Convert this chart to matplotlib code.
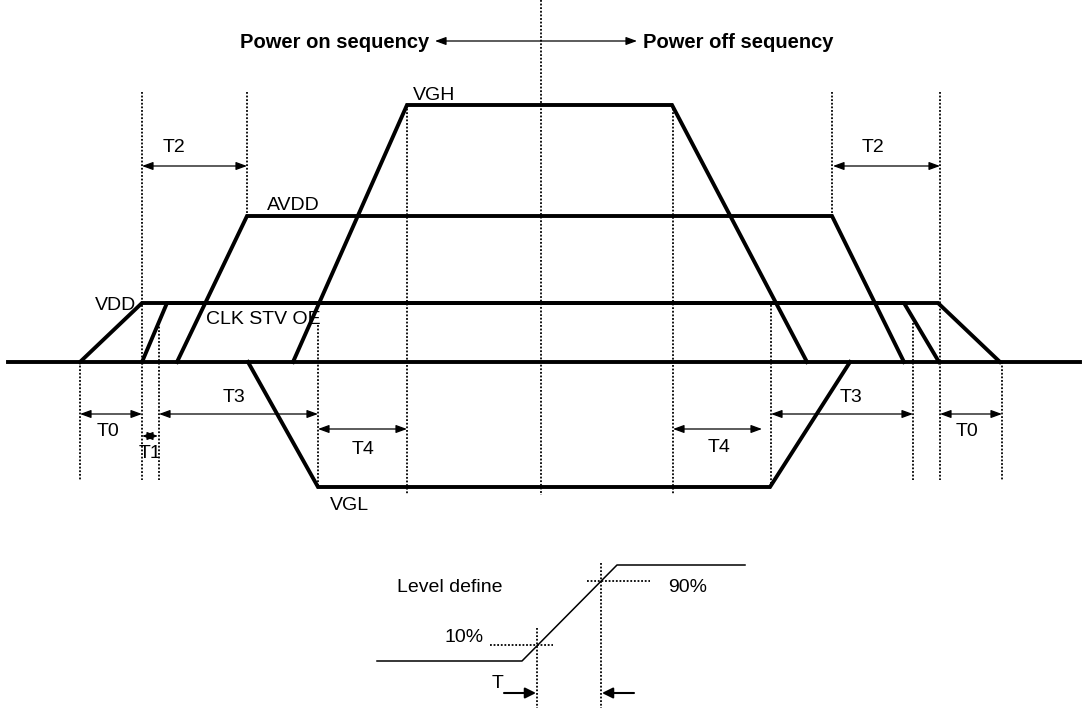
import matplotlib.pyplot as plt

plt.rcParams['font.family'] = ['Liberation Sans', 'DejaVu Sans']

# Signal levels (pixel rows of the drawing)
y_gnd = 362
y_vdd = 303
y_avdd = 216
y_vgh = 105
y_vgl = 487

# Waveforms: breakpoints along the time axis
gnd_x = [8, 1080]
gnd_y = [y_gnd, y_gnd]
vdd_x = [80, 142, 938, 1000]
vdd_y = [y_gnd, y_vdd, y_vdd, y_gnd]
clk_x = [142, 167, 904, 939]
clk_y = [y_gnd, y_vdd, y_vdd, y_gnd]
avdd_x = [177, 247, 832, 904]
avdd_y = [y_gnd, y_avdd, y_avdd, y_gnd]
vgh_x = [293, 407, 672, 807]
vgh_y = [y_gnd, y_vgh, y_vgh, y_gnd]
vgl_x = [248, 318, 770, 850]
vgl_y = [y_gnd, y_vgl, y_vgl, y_gnd]

# Dotted guide lines: x, top, bottom
guide_x = [80, 142, 159, 247, 318, 407, 541, 673, 771, 832, 913, 940, 1002]
guide_top = [362, 92, 323, 92, 325, 105, 0, 105, 305, 92, 323, 92, 362]
guide_bot = [480, 480, 480, 216, 487, 495, 495, 495, 487, 216, 480, 480, 480]

# Timing spans: label, x start, x end, arrow y, label x, label y
span_labels = ['T2', 'T2', 'T0', 'T1', 'T3', 'T4', 'T4', 'T3', 'T0']
span_x0 = [142, 833, 80, 142, 159, 318, 673, 771, 940]
span_x1 = [247, 940, 142, 158, 318, 407, 762, 913, 1002]
span_y = [166, 166, 414, 436, 414, 429, 429, 414, 414]
span_lx = [174, 873, 108, 150, 234, 363, 719, 851, 967]
span_ly = [147, 147, 432, 453, 398, 449, 447, 398, 432]

# Level-define inset
lvl_x = [377, 522, 617, 745]
lvl_y = [661, 661, 565, 565]

fig = plt.figure(figsize=(10.84, 7.08), dpi=100)
ax = fig.add_axes([0, 0, 1, 1])
ax.set_xlim(0, 1084)
ax.set_ylim(708, 0)
ax.axis('off')

dot = dict(color='black', lw=1.3, linestyle=(0, (1, 1)))
fs = 14

for x, t, b in zip(guide_x, guide_top, guide_bot):
    ax.plot([x, x], [t, b], **dot)

for xs, ys in [(gnd_x, gnd_y), (vdd_x, vdd_y), (clk_x, clk_y),
               (avdd_x, avdd_y), (vgh_x, vgh_y), (vgl_x, vgl_y)]:
    ax.plot(xs, ys, color='black', lw=2.8, solid_joinstyle='miter')

thin = dict(arrowstyle='<|-|>,head_length=0.6,head_width=0.22', color='black',
            lw=0.9, mutation_scale=11, shrinkA=0, shrinkB=0)
for lab, x0, x1, y, lx, ly in zip(span_labels, span_x0, span_x1, span_y, span_lx, span_ly):
    ax.annotate('', xy=(x1, y), xytext=(x0, y), arrowprops=thin)
    ax.text(lx, ly, lab, fontsize=fs, ha='center', va='center')

# signal names
ax.text(413, 95, 'VGH', fontsize=fs, ha='left', va='center')
ax.text(267, 205, 'AVDD', fontsize=fs, ha='left', va='center')
ax.text(136, 305, 'VDD', fontsize=fs, ha='right', va='center')
ax.text(206, 320, 'CLK STV OE', fontsize=fs, ha='left', va='center')
ax.text(330, 505, 'VGL', fontsize=fs, ha='left', va='center')

# header
ax.text(429, 42, 'Power on sequency', fontsize=14.5, fontweight='bold', ha='right', va='center')
ax.text(643, 42, 'Power off sequency', fontsize=14.5, fontweight='bold', ha='left', va='center')
ax.annotate('', xy=(637, 41), xytext=(435, 41), arrowprops=thin)

# level define inset
ax.plot(lvl_x, lvl_y, color='black', lw=1.1)
ax.plot([537, 537], [628, 708], **dot)
ax.plot([601, 601], [563, 708], **dot)
ax.plot([490, 553], [645, 645], **dot)
ax.plot([587, 650], [581, 581], **dot)
ax.text(397, 587, 'Level define', fontsize=fs, ha='left', va='center')
ax.text(668, 587, '90%', fontsize=fs, ha='left', va='center')
ax.text(445, 637, '10%', fontsize=fs, ha='left', va='center')
ax.text(498, 684, 'T', fontsize=fs, ha='center', va='center')
bold = dict(arrowstyle='-|>', color='black', lw=1.5, mutation_scale=16,
            shrinkA=0, shrinkB=0)
ax.annotate('', xy=(536, 693), xytext=(504, 693), arrowprops=bold)
ax.annotate('', xy=(602, 693), xytext=(634, 693), arrowprops=bold)

fig.savefig('out.png', dpi=100)
